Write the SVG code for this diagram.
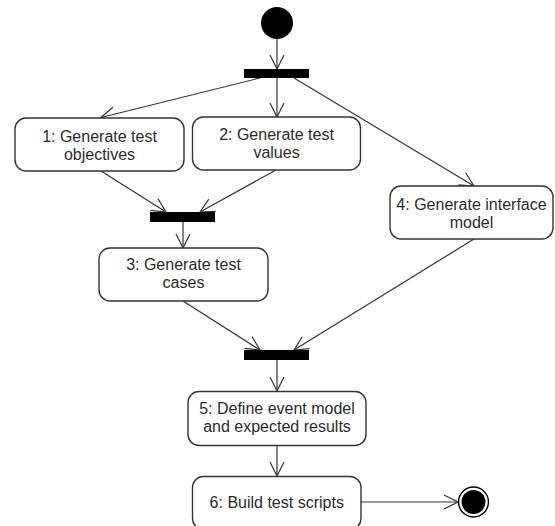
<svg xmlns="http://www.w3.org/2000/svg" width="555" height="526" viewBox="0 0 555 526">
  <defs>
    <marker id="open" viewBox="0 0 16 16" refX="15" refY="8" markerWidth="16" markerHeight="16" markerUnits="userSpaceOnUse" orient="auto">
      <path d="M1,1 L15,8 L1,15" fill="none" stroke="#333" stroke-width="1.2"/>
    </marker>
    <style>
      .act { fill: #fff; stroke: #333; stroke-width: 1.4; }
      .bar { fill: #000; }
      .lbl { font-family: "Liberation Sans", Arial, sans-serif; font-size: 16px; fill: #2b2b2b; text-anchor: middle; }
      .flow { fill: none; stroke: #333; stroke-width: 1.2; marker-end: url(#open); }
    </style>
  </defs>
  <rect width="555" height="526" fill="#fff"/>

  <!-- control flow -->
  <g id="connectors">
    <line class="flow" x1="277" y1="39" x2="277" y2="69"/>
    <line class="flow" x1="260" y1="78" x2="101" y2="117.5"/>
    <line class="flow" x1="277" y1="78" x2="277" y2="117"/>
    <line class="flow" x1="294" y1="78" x2="474" y2="186"/>
    <line class="flow" x1="101" y1="171" x2="166" y2="212"/>
    <line class="flow" x1="276" y1="170" x2="200" y2="212"/>
    <line class="flow" x1="183" y1="222" x2="183" y2="248"/>
    <line class="flow" x1="183" y1="301" x2="260" y2="350"/>
    <line class="flow" x1="474" y1="239" x2="294" y2="350"/>
    <line class="flow" x1="277" y1="360" x2="277" y2="391"/>
    <line class="flow" x1="277" y1="445" x2="277" y2="476"/>
    <line class="flow" x1="361" y1="502" x2="458" y2="502"/>
  </g>

  <!-- initial node -->
  <g id="start">
    <circle cx="277" cy="23" r="16" fill="#000"/>
  </g>

  <!-- fork / join bars -->
  <g id="fork1"><rect class="bar" x="244" y="69" width="65" height="9"/></g>
  <g id="join2"><rect class="bar" x="150" y="212" width="65" height="10"/></g>
  <g id="join3"><rect class="bar" x="244" y="350" width="65" height="10"/></g>

  <!-- activities -->
  <g id="act1">
    <rect class="act" x="15" y="118" width="169" height="53" rx="11"/>
    <text class="lbl" x="99.5" y="141.5">1: Generate test</text>
    <text class="lbl" x="99.5" y="159.5">objectives</text>
  </g>
  <g id="act2">
    <rect class="act" x="192.5" y="117" width="168" height="53" rx="11"/>
    <text class="lbl" x="276.5" y="140">2: Generate test</text>
    <text class="lbl" x="276.5" y="158">values</text>
  </g>
  <g id="act3">
    <rect class="act" x="99" y="248" width="169" height="53" rx="11"/>
    <text class="lbl" x="183.5" y="270">3: Generate test</text>
    <text class="lbl" x="183.5" y="288">cases</text>
  </g>
  <g id="act4">
    <rect class="act" x="390" y="186" width="163" height="53" rx="11"/>
    <text class="lbl" x="471.5" y="210">4: Generate interface</text>
    <text class="lbl" x="471.5" y="228">model</text>
  </g>
  <g id="act5">
    <rect class="act" x="188" y="391.5" width="178" height="54" rx="11"/>
    <text class="lbl" x="277" y="413.5">5: Define event model</text>
    <text class="lbl" x="277" y="431.5">and expected results</text>
  </g>
  <g id="act6">
    <rect class="act" x="192.5" y="476.5" width="168.5" height="53" rx="11"/>
    <text class="lbl" x="276.75" y="508">6: Build test scripts</text>
  </g>

  <!-- final node -->
  <g id="end">
    <circle cx="473.5" cy="502" r="15" fill="#fff" stroke="#000" stroke-width="1.4"/>
    <circle cx="473.5" cy="502" r="12" fill="#000"/>
  </g>
</svg>
